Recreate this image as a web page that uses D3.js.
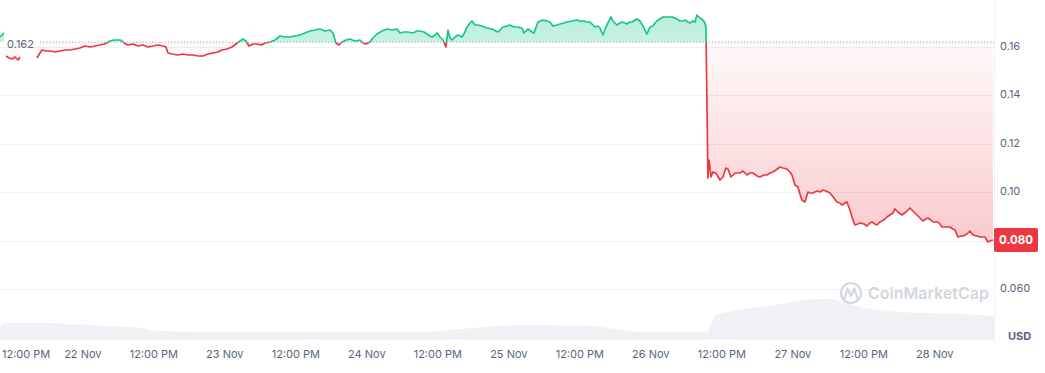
<!DOCTYPE html>
<html><head><meta charset="utf-8">
<script src="https://cdn.jsdelivr.net/npm/d3@7"></script>
<style>
html,body{margin:0;padding:0;background:#fff;}
svg{display:block;font-family:Inter,"Noto Sans",sans-serif;}
</style>
</head><body>
<svg id="chart" width="1045" height="373"></svg>
<script>
// ---------------- DATA ----------------
const startTime = new Date(2024, 10, 21, 10, 0); // hours below are offsets from this moment
const spanHours = 168;
const basePrice = 0.162;
const lastPriceLabel = "0.080";
const lastPrice = 0.0800;
const yTickValues = [0.06, 0.08, 0.10, 0.12, 0.14, 0.16];
const yTickLabels = ["0.060", "0.080", "0.10", "0.12", "0.14", "0.16"];
const xTickHours = [2, 14, 26, 38, 50, 62, 74, 86, 98, 110, 122, 134, 146, 158];
const xTickLabels = ["12:00 PM", "22 Nov", "12:00 PM", "23 Nov", "12:00 PM", "24 Nov", "12:00 PM", "25 Nov", "12:00 PM", "26 Nov", "12:00 PM", "27 Nov", "12:00 PM", "28 Nov"];
const unitLabel = "USD";
const watermarkText = "CoinMarketCap";

// [hour offset, price]; null price = gap in the feed
const priceSeries = [
[0,0.16413],[0.34,0.16496],[0.68,0.16579],[0.85,null],
[1.01,0.15628],[1.52,0.15545],[2.03,0.15504],[2.54,0.15587],[3.04,0.15463],[3.38,0.15587],[4.5,null],
[6.25,0.15545],[6.76,0.15752],[7.10,0.15876],[7.77,0.15835],[8.45,0.15835],[9.30,0.15793],[10.14,0.15835],[10.99,0.15876],[11.83,0.15876],[12.68,0.15917],[13.52,0.15959],[14.37,0.16041],[15.21,0.16000],[16.06,0.16041],[16.90,0.16083],[17.58,0.16124],[18.08,0.16165],[18.59,0.16248],[19.27,0.16289],[19.94,0.16289],[20.45,0.16289],[20.96,0.16165],[21.63,0.16083],[22.48,0.16124],[23.32,0.16041],[24.17,0.16083],[25.01,0.16000],[25.86,0.16041],[26.70,0.16083],[27.55,0.16041],[28.05,0.16000],[28.39,0.15752],[29.07,0.15711],[30.08,0.15669],[30.93,0.15711],[31.77,0.15669],[32.62,0.15669],[33.46,0.15628],[34.31,0.15628],[35.15,0.15711],[36.00,0.15752],[36.84,0.15793],[37.52,0.15876],[38.36,0.15917],[39.21,0.16000],[39.88,0.16124],[40.56,0.16248],[41.07,0.16331],[41.57,0.16248],[42.08,0.16041],[42.76,0.16124],[43.43,0.16124],[44.11,0.16083],[44.79,0.16165],[45.63,0.16207],[46.48,0.16289],[47.32,0.16455],[48.17,0.16413],[49.01,0.16413],[49.86,0.16455],[50.70,0.16496],[51.55,0.16579],[52.39,0.16661],[53.24,0.16702],[54.08,0.16744],[54.93,0.16661],[55.77,0.16702],[56.28,0.16579],[56.78,0.16165],[57.29,0.16083],[57.80,0.16207],[58.47,0.16289],[59.15,0.16331],[60.00,0.16248],[60.84,0.16289],[61.35,0.16165],[61.85,0.16124],[62.53,0.16207],[63.04,0.16372],[63.71,0.16537],[64.56,0.16661],[65.40,0.16744],[66.25,0.16702],[67.09,0.16744],[67.60,0.16579],[68.28,0.16620],[68.95,0.16620],[69.80,0.16579],[70.47,0.16661],[70.98,0.16661],[71.66,0.16620],[72.16,0.16537],[72.67,0.16455],[73.01,0.16413],[73.52,0.16496],[73.85,0.16579],[74.36,0.16413],[74.87,0.16289],[75.37,0.16000],[75.71,0.16702],[76.05,0.16372],[76.39,0.16289],[76.90,0.16413],[77.40,0.16496],[78.08,0.16413],[78.59,0.16620],[78.92,0.16826],[79.43,0.16992],[79.77,0.17074],[80.28,0.16909],[80.78,0.16909],[81.46,0.16868],[82.30,0.16785],[83.15,0.16744],[84.16,0.16620],[85.01,0.16826],[85.68,0.16868],[86.19,0.16909],[86.87,0.16826],[87.37,0.16826],[88.22,0.16785],[88.56,0.16579],[89.23,0.16744],[89.91,0.16620],[90.25,0.16579],[90.92,0.17033],[91.77,0.17116],[92.44,0.17074],[92.95,0.17033],[93.46,0.16868],[94.13,0.16909],[94.64,0.16950],[95.32,0.16992],[95.82,0.17033],[96.67,0.17074],[97.51,0.17116],[98.02,0.17074],[98.70,0.17074],[99.20,0.17033],[99.71,0.17033],[100.05,0.16950],[100.56,0.16826],[101.06,0.16868],[101.40,0.16785],[101.91,0.16496],[102.41,0.16826],[102.75,0.16992],[103.26,0.17240],[103.60,0.17074],[104.27,0.16909],[104.78,0.16992],[105.12,0.17033],[105.63,0.16992],[105.96,0.16950],[106.47,0.17033],[106.81,0.17033],[107.65,0.17157],[108.16,0.17074],[108.67,0.16868],[109.01,0.16702],[109.34,0.16537],[109.85,0.16826],[110.36,0.16868],[110.70,0.16992],[111.03,0.17074],[111.54,0.17157],[112.05,0.17240],[112.89,0.17240],[113.57,0.17240],[114.08,0.17198],[114.41,0.17157],[114.92,0.17074],[115.43,0.17074],[115.77,0.17116],[116.27,0.17033],[116.61,0.16992],[117.12,0.17074],[117.46,0.17033],[117.79,0.17322],[118.30,0.17198],[118.81,0.17116],[119.15,0.16992],[119.31,0.16826],
[119.65,0.10587],[119.82,0.11331],[119.99,0.11041],[120.16,0.10628],[120.50,0.10835],[121.00,0.10793],[121.68,0.10504],[122.19,0.10628],[122.69,0.11000],[123.03,0.10959],[123.54,0.10628],[124.22,0.10793],[125.06,0.10793],[125.57,0.10876],[126.24,0.10711],[126.75,0.10793],[127.26,0.10793],[127.93,0.10669],[128.44,0.10628],[129.12,0.10711],[129.62,0.10711],[130.13,0.10793],[130.64,0.10835],[131.14,0.10917],[131.82,0.11041],[132.33,0.11000],[133.00,0.10959],[133.51,0.10835],[133.85,0.10711],[134.36,0.10298],[134.86,0.10215],[135.20,0.09926],[135.54,0.09678],[136.05,0.09595],[136.55,0.10008],[136.89,0.09967],[137.40,0.09967],[138.07,0.10050],[138.58,0.10008],[139.09,0.10091],[139.59,0.10050],[140.27,0.09967],[140.95,0.09760],[141.45,0.09595],[141.96,0.09554],[142.30,0.09471],[142.81,0.09554],[143.14,0.09595],[143.65,0.09264],[144.16,0.08851],[144.50,0.08645],[145.00,0.08686],[145.34,0.08727],[146.02,0.08686],[146.52,0.08603],[147.03,0.08727],[147.37,0.08768],[147.88,0.08686],[148.21,0.08645],[148.72,0.08768],[149.06,0.08810],[149.57,0.08892],[149.90,0.08975],[150.41,0.09058],[150.92,0.09140],[151.26,0.09306],[151.76,0.09182],[152.44,0.09058],[153.11,0.09182],[153.79,0.09347],[154.30,0.09223],[154.97,0.09058],[155.48,0.08933],[155.99,0.08810],[156.49,0.08892],[156.83,0.08933],[157.34,0.08851],[157.68,0.08768],[158.18,0.08768],[158.52,0.08768],[158.86,0.08686],[159.20,0.08562],[159.87,0.08562],[160.55,0.08562],[161.06,0.08479],[161.40,0.08438],[161.90,0.08149],[162.41,0.08190],[162.75,0.08190],[163.42,0.08273],[163.93,0.08397],[164.44,0.08231],[165.11,0.08190],[165.62,0.08149],[166.13,0.08149],[166.47,0.08149],[166.97,0.07942],[167.31,0.07983],[167.82,0.08025]
];

// [hour offset, 24h volume (M USD, approx.)]
const volumeSeries = [
[0,13],[1,17],[6,17],[12,16],[18,14],[24,12],[27,9],[36,8],[72,8],[76,10],[82,13],[88,15],[100,14],[104,11],[109,8],[119.5,8],[121,25],[123,28],[131,35],[136,40],[140,41],[143,37],[146,32],[150,29],[156,27],[163,26],[168,24]
];

// ---------------- CHART ----------------
const svg = d3.select("#chart");
const W = 1045, H = 373;
const plotRight = 994;
const hourToDate = h => new Date(startTime.getTime() + h * 3600e3);

const x = d3.scaleTime().domain([startTime, hourToDate(spanHours)]).range([0, plotRight]);
const y = d3.scaleLinear().domain([0.06, 0.16]).range([289, 47]);
const yVol = d3.scaleLinear().domain([0, 50]).range([340, 290]);

const yBase = y(basePrice);
const yLast = y(lastPrice);
const GREEN = "#16c784", RED = "#ea3943", TXT = "#58667e", GRID = "#eff2f5";

const defs = svg.append("defs");
defs.append("clipPath").attr("id", "clipAbove").append("rect")
  .attr("x", 0).attr("y", 0).attr("width", plotRight).attr("height", yBase);
defs.append("clipPath").attr("id", "clipBelow").append("rect")
  .attr("x", 0).attr("y", yBase).attr("width", plotRight).attr("height", H - yBase);
const gRed = defs.append("linearGradient").attr("id", "gradRed")
  .attr("gradientUnits", "userSpaceOnUse").attr("x1", 0).attr("x2", 0).attr("y1", yBase).attr("y2", y(0.078));
gRed.append("stop").attr("offset", 0).attr("stop-color", RED).attr("stop-opacity", 0.03);
gRed.append("stop").attr("offset", 1).attr("stop-color", RED).attr("stop-opacity", 0.27);
const gGreen = defs.append("linearGradient").attr("id", "gradGreen")
  .attr("gradientUnits", "userSpaceOnUse").attr("x1", 0).attr("x2", 0).attr("y1", y(0.174)).attr("y2", yBase);
gGreen.append("stop").attr("offset", 0).attr("stop-color", GREEN).attr("stop-opacity", 0.30);
gGreen.append("stop").attr("offset", 1).attr("stop-color", GREEN).attr("stop-opacity", 0.24);

// grid
svg.append("g").selectAll("line").data(yTickValues).join("line")
  .attr("x1", 0).attr("x2", plotRight)
  .attr("y1", d => Math.round(y(d)) + 0.5).attr("y2", d => Math.round(y(d)) + 0.5)
  .attr("stroke", GRID).attr("stroke-width", 1);
svg.append("line").attr("x1", plotRight + 0.5).attr("x2", plotRight + 0.5)
  .attr("y1", 0).attr("y2", 343).attr("stroke", GRID);

// volume
svg.append("path").datum(volumeSeries)
  .attr("d", d3.area().curve(d3.curveMonotoneX)
    .x(d => x(hourToDate(d[0]))).y0(yVol(0)).y1(d => yVol(d[1])))
  .attr("fill", "#eff1f4");

// watermark
const wm = svg.append("g");
wm.append("circle").attr("cx", 851).attr("cy", 293).attr("r", 10)
  .attr("fill", "none").attr("stroke", "#d3d8de").attr("stroke-width", 2.2);
wm.append("path").attr("d", "M844.5,298.5 L847.5,288.5 L851,296 L854.5,288.5 L857.5,298.5")
  .attr("fill", "none").attr("stroke", "#d3d8de").attr("stroke-width", 2.2).attr("stroke-linejoin", "round").attr("stroke-linecap", "round");
wm.append("text").attr("x", 868).attr("y", 299).text(watermarkText)
  .attr("font-size", 16).attr("font-weight", 600).attr("fill", "#d2d7dd");

// price area + line
const pts = priceSeries.map(d => ({t: hourToDate(d[0]), p: d[1]}));
const defined = d => d.p !== null;
const area = d3.area().defined(defined).x(d => x(d.t)).y0(yBase).y1(d => y(d.p));
const line = d3.line().defined(defined).x(d => x(d.t)).y(d => y(d.p));

svg.append("path").datum(pts).attr("d", area).attr("fill", "url(#gradRed)").attr("clip-path", "url(#clipBelow)");
svg.append("path").datum(pts).attr("d", area).attr("fill", "url(#gradGreen)").attr("clip-path", "url(#clipAbove)");

// baseline
svg.append("line").attr("x1", 40).attr("x2", plotRight).attr("y1", yBase).attr("y2", yBase)
  .attr("stroke", "#8f9bb0").attr("stroke-width", 1).attr("stroke-dasharray", "1,2.2");

svg.append("path").datum(pts).attr("d", line).attr("fill", "none").attr("stroke", RED)
  .attr("stroke-width", 1.7).attr("stroke-linejoin", "round").attr("clip-path", "url(#clipBelow)");
svg.append("path").datum(pts).attr("d", line).attr("fill", "none").attr("stroke", GREEN)
  .attr("stroke-width", 1.7).attr("stroke-linejoin", "round").attr("clip-path", "url(#clipAbove)");

// baseline label
svg.append("text").attr("x", 7).attr("y", yBase + 3).attr("dominant-baseline", "middle")
  .attr("font-size", 11).attr("fill", TXT).text(basePrice.toFixed(3));

// y-axis labels (the one hidden behind the last-price tag is skipped)
const yTicks = yTickValues.map((v, i) => ({v, label: yTickLabels[i]}))
  .filter(d => Math.abs(y(d.v) - yLast) > 14);
svg.append("g").selectAll("text").data(yTicks).join("text")
  .attr("x", 1000).attr("y", d => y(d.v)).attr("dominant-baseline", "middle")
  .attr("font-size", 11).attr("fill", TXT)
  .text(d => d.label);

// last price tag
svg.append("rect").attr("x", 994).attr("y", yLast - 12.5).attr("width", 44).attr("height", 24)
  .attr("rx", 2).attr("fill", RED);
svg.append("text").attr("x", 1016).attr("y", yLast).attr("text-anchor", "middle")
  .attr("dominant-baseline", "middle").attr("font-size", 11.5).attr("font-weight", 700)
  .attr("fill", "#fff").text(lastPriceLabel);

// unit label
svg.append("text").attr("x", 1008).attr("y", 337).attr("dominant-baseline", "middle")
  .attr("font-size", 11).attr("font-weight", 700).attr("fill", TXT).text(unitLabel);

// x-axis labels
const xl = svg.append("g").selectAll("text").data(xTickHours).join("text")
  .attr("y", 355).attr("dominant-baseline", "middle").attr("text-anchor", "middle")
  .attr("font-size", 11).attr("fill", TXT)
  .text((d, i) => xTickLabels[i])
  .attr("x", d => x(hourToDate(d)));
xl.each(function() {
  const bb = this.getBBox();
  if (bb.x < 2) d3.select(this).attr("x", +d3.select(this).attr("x") + (2 - bb.x));
});
</script>
</body></html>
